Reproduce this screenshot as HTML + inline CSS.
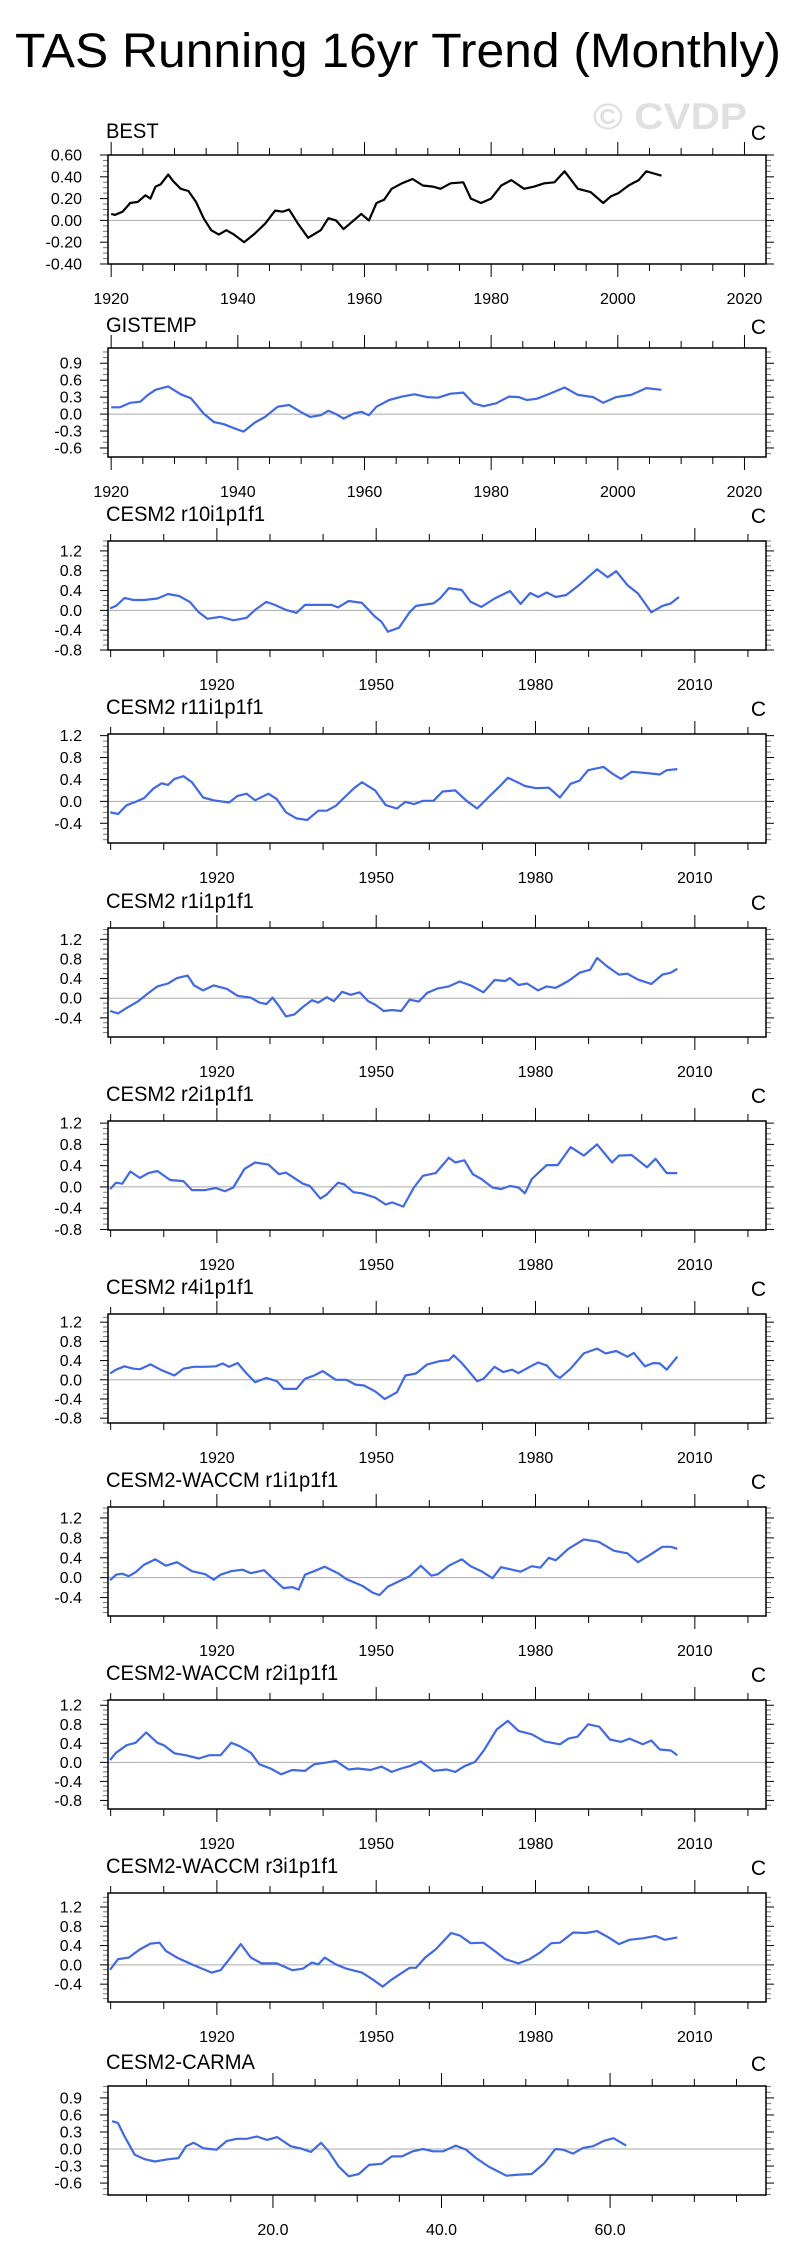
<!DOCTYPE html>
<html><head><meta charset="utf-8"><title>TAS Running 16yr Trend (Monthly)</title>
<style>
html,body{margin:0;padding:0;background:#fff;}
svg{display:block;font-family:"Liberation Sans",Arial,sans-serif;}
</style></head>
<body>
<svg id="chart" width="794" height="2265" viewBox="0 0 794 2265" xmlns="http://www.w3.org/2000/svg">
<text x="15" y="67" font-size="48" textLength="766" lengthAdjust="spacingAndGlyphs">TAS Running 16yr Trend (Monthly)</text>
<text x="593" y="129" font-size="37" font-weight="bold" fill="#e0e0e0" textLength="154" lengthAdjust="spacingAndGlyphs">© CVDP</text>
</svg>
<script>
// ---- data ----
const bestYears=[1920.0,1920.6,1921.8,1923.0,1924.2,1925.4,1926.2,1927.0,1927.8,1929.0,1929.8,1931.0,1932.2,1933.4,1934.6,1935.8,1937.0,1938.2,1939.4,1941.0,1942.7,1944.3,1945.9,1947.1,1948.1,1949.5,1951.1,1953.1,1954.3,1955.5,1956.7,1958.3,1959.5,1960.7,1961.9,1963.1,1964.3,1965.9,1967.6,1969.2,1970.8,1972.0,1973.6,1975.6,1976.8,1978.4,1980.0,1981.6,1983.2,1985.2,1986.8,1988.4,1990.0,1991.6,1993.7,1995.7,1997.7,1998.9,2000.1,2001.7,2003.3,2004.5,2005.7,2006.9];
const bestValues=[.06,.05,.08,.16,.17,.23,.20,.31,.33,.42,.36,.29,.27,.17,.02,-.09,-.13,-.09,-.13,-.20,-.12,-.03,.09,.08,.10,-.03,-.16,-.09,.02,.00,-.08,.00,.06,.00,.16,.19,.29,.34,.38,.32,.31,.29,.34,.35,.20,.16,.20,.32,.37,.29,.31,.34,.35,.45,.29,.26,.16,.22,.25,.32,.37,.45,.43,.41];
const gisYears=[1920.0,1921.4,1923.0,1924.6,1925.8,1927.0,1929.0,1931.0,1932.6,1934.6,1936.2,1937.8,1939.4,1940.9,1942.7,1944.3,1946.3,1948.1,1949.9,1951.4,1953.1,1954.3,1955.5,1956.7,1958.3,1959.5,1960.7,1961.9,1963.9,1965.9,1967.9,1969.9,1971.6,1973.6,1975.6,1977.2,1978.8,1980.8,1982.8,1984.4,1985.6,1987.2,1988.8,1991.6,1993.7,1996.1,1997.7,1999.7,2002.1,2004.5,2006.9];
const gisValues=[.12,.12,.20,.22,.34,.43,.49,.35,.28,.01,-.14,-.18,-.25,-.31,-.15,-.05,.13,.16,.04,-.05,-.02,.06,.00,-.08,.01,.04,-.02,.13,.25,.31,.35,.30,.29,.36,.38,.19,.14,.19,.31,.30,.25,.27,.34,.47,.34,.30,.20,.30,.34,.46,.43];
const r10Years=[1899.9,1901.0,1902.6,1904.3,1906.3,1908.8,1910.8,1912.9,1914.9,1916.6,1918.2,1920.7,1923.1,1925.6,1927.2,1929.3,1930.9,1933.0,1935.0,1936.6,1939.1,1941.6,1942.8,1944.8,1947.3,1949.8,1951.0,1952.2,1954.3,1956.3,1957.5,1960.8,1962.0,1963.7,1966.1,1967.8,1969.8,1972.3,1975.2,1977.2,1979.0,1980.5,1982.1,1983.8,1985.8,1988.3,1991.6,1993.6,1995.2,1997.3,1999.3,2001.8,2003.9,2005.5,2007.0];
const r10Values=[.04,.09,.25,.21,.21,.24,.33,.29,.17,-.04,-.17,-.13,-.20,-.15,.01,.17,.11,.01,-.05,.11,.11,.11,.06,.19,.15,-.13,-.23,-.43,-.35,-.04,.09,.14,.24,.45,.41,.17,.07,.24,.39,.13,.35,.27,.36,.27,.31,.52,.83,.67,.79,.51,.34,-.04,.09,.14,.27];
const r11Years=[1899.9,1901.4,1903.0,1904.7,1906.3,1908.0,1909.6,1910.8,1912.0,1913.7,1915.3,1917.4,1919.4,1922.3,1923.9,1925.6,1927.2,1929.7,1931.3,1933.0,1935.0,1937.0,1939.1,1940.7,1942.4,1944.0,1945.7,1947.3,1949.8,1951.8,1953.9,1955.5,1957.1,1958.8,1960.8,1962.5,1964.9,1967.0,1969.0,1971.1,1973.1,1974.8,1976.8,1978.0,1980.1,1982.5,1984.6,1986.6,1988.3,1989.9,1992.8,1994.4,1996.1,1998.1,2000.6,2003.4,2004.7,2006.7];
const r11Values=[-.20,-.23,-.07,-.01,.06,.23,.33,.30,.41,.46,.35,.07,.02,-.02,.10,.14,.02,.14,.04,-.20,-.31,-.34,-.17,-.17,-.08,.07,.23,.35,.20,-.07,-.13,-.01,-.05,.01,.01,.18,.20,.01,-.13,.07,.26,.43,.34,.28,.24,.25,.07,.32,.38,.57,.63,.51,.41,.54,.52,.49,.57,.59];
const r1Years=[1899.9,1901.4,1903.0,1905.1,1906.7,1908.8,1910.8,1912.5,1914.5,1915.7,1917.4,1919.4,1921.9,1923.9,1926.4,1928.0,1929.3,1930.5,1931.7,1933.0,1934.6,1936.2,1937.9,1939.1,1940.7,1942.0,1943.6,1945.2,1946.9,1948.5,1949.8,1951.4,1953.0,1954.7,1956.3,1958.0,1959.6,1961.6,1963.7,1965.7,1967.8,1970.2,1972.3,1974.3,1975.2,1976.8,1978.4,1980.5,1982.1,1983.8,1986.2,1988.3,1990.3,1991.6,1993.6,1995.7,1997.3,1999.3,2001.8,2003.9,2005.5,2006.7];
const r1Values=[-.26,-.31,-.20,-.07,.07,.24,.30,.41,.46,.26,.16,.26,.19,.05,.01,-.09,-.12,.01,-.16,-.37,-.33,-.18,-.04,-.09,.02,-.06,.13,.07,.12,-.06,-.13,-.26,-.24,-.26,-.03,-.07,.11,.20,.24,.34,.26,.12,.37,.35,.41,.27,.30,.16,.24,.21,.35,.52,.58,.82,.64,.48,.50,.38,.29,.48,.52,.60];
const r2Years=[1899.9,1901.0,1902.2,1903.7,1905.5,1907.1,1908.8,1911.2,1913.7,1915.3,1917.8,1919.8,1921.5,1923.1,1925.2,1927.2,1929.7,1931.7,1933.0,1936.2,1937.5,1939.5,1940.7,1942.8,1944.0,1945.7,1947.3,1949.8,1951.8,1953.0,1955.1,1957.1,1958.8,1961.2,1963.7,1964.9,1966.6,1968.2,1969.8,1971.9,1973.5,1975.2,1976.8,1978.0,1979.3,1982.1,1984.2,1986.6,1989.1,1991.6,1994.4,1995.7,1998.1,2001.0,2002.6,2004.7,2006.7];
const r2Values=[-.04,.08,.06,.29,.17,.26,.30,.13,.11,-.06,-.06,-.02,-.08,-.01,.34,.46,.42,.24,.27,.06,.02,-.22,-.14,.08,.05,-.10,-.12,-.20,-.33,-.29,-.37,-.01,.21,.26,.55,.46,.50,.24,.15,-.01,-.04,.02,-.01,-.12,.15,.41,.41,.75,.59,.80,.46,.59,.60,.37,.53,.26,.26];
const r4Years=[1899.9,1901.0,1902.6,1904.3,1905.5,1907.5,1909.6,1912.0,1913.7,1915.7,1917.8,1919.8,1921.1,1922.3,1923.9,1925.6,1927.2,1929.3,1931.3,1932.6,1935.0,1936.6,1938.3,1939.9,1942.4,1944.4,1946.1,1947.7,1949.8,1951.6,1953.9,1955.5,1957.5,1959.6,1962.0,1963.7,1964.6,1966.1,1967.8,1969.0,1970.2,1972.3,1973.9,1975.6,1976.8,1978.9,1980.5,1982.1,1983.8,1984.6,1986.6,1989.1,1991.6,1993.2,1995.2,1997.3,1998.5,2000.6,2002.2,2003.4,2004.7,2006.7];
const r4Values=[.13,.21,.28,.23,.22,.32,.20,.09,.23,.27,.27,.28,.34,.27,.35,.13,-.05,.04,-.03,-.19,-.19,.02,.09,.18,.00,.00,-.10,-.12,-.24,-.40,-.26,.09,.13,.32,.39,.41,.51,.35,.13,-.03,.02,.27,.16,.21,.14,.27,.36,.30,.09,.04,.23,.55,.65,.55,.60,.48,.56,.28,.35,.34,.21,.48];
const wr1Years=[1899.9,1901.0,1902.2,1903.4,1904.7,1906.3,1908.4,1910.4,1912.5,1915.3,1917.8,1919.4,1920.7,1922.7,1924.8,1926.4,1928.9,1930.5,1932.5,1934.2,1935.4,1936.6,1938.3,1940.3,1942.8,1944.4,1947.3,1949.3,1950.6,1952.2,1954.7,1956.3,1958.4,1960.4,1961.6,1963.7,1966.1,1967.8,1969.8,1971.9,1973.5,1975.6,1977.2,1979.3,1980.9,1982.5,1983.8,1986.2,1989.1,1991.9,1994.8,1997.3,1999.3,2001.4,2003.9,2005.5,2006.7];
const wr1Values=[-.05,.06,.08,.03,.11,.26,.37,.24,.31,.13,.07,-.04,.06,.13,.16,.09,.15,-.01,-.21,-.19,-.24,.06,.13,.22,.09,-.03,-.16,-.30,-.35,-.18,-.05,.03,.24,.04,.07,.24,.37,.23,.13,-.01,.21,.16,.12,.23,.20,.40,.35,.58,.77,.72,.54,.49,.31,.45,.62,.62,.58];
const wr2Years=[1899.9,1901.0,1903.0,1904.7,1906.7,1908.8,1910.0,1912.0,1914.1,1916.6,1918.6,1920.7,1922.7,1924.3,1926.4,1928.0,1930.1,1932.1,1934.2,1936.6,1938.3,1940.3,1942.4,1944.8,1946.5,1948.9,1951.0,1952.9,1954.7,1956.3,1958.4,1960.8,1963.3,1964.9,1966.6,1968.6,1970.2,1972.7,1974.8,1976.8,1979.3,1981.7,1984.6,1986.2,1987.9,1989.9,1992.0,1994.0,1996.1,1997.7,2000.2,2001.8,2003.4,2005.5,2006.7];
const wr2Values=[.05,.20,.36,.41,.63,.41,.36,.19,.15,.08,.15,.15,.41,.34,.20,-.04,-.13,-.25,-.16,-.18,-.04,-.01,.03,-.15,-.13,-.16,-.09,-.20,-.13,-.08,.02,-.18,-.15,-.20,-.08,.01,.24,.69,.87,.66,.59,.44,.38,.50,.54,.80,.75,.48,.43,.50,.38,.46,.27,.25,.15];
const wr3Years=[1899.9,1901.4,1903.4,1905.5,1907.5,1909.2,1910.4,1912.5,1915.3,1919.0,1920.7,1922.7,1924.5,1926.4,1928.4,1931.3,1934.2,1936.2,1937.9,1939.1,1940.3,1942.4,1944.4,1947.3,1949.3,1951.2,1953.0,1956.3,1957.5,1959.2,1961.2,1964.1,1965.7,1967.8,1970.2,1972.3,1974.3,1976.8,1978.9,1980.9,1983.0,1984.6,1987.1,1989.5,1991.6,1993.6,1995.7,1997.7,2000.2,2002.6,2004.3,2006.7];
const wr3Values=[-.10,.12,.15,.32,.44,.46,.29,.15,.01,-.16,-.11,.17,.43,.15,.03,.03,-.11,-.08,.05,.01,.15,.01,-.08,-.16,-.30,-.45,-.30,-.06,-.06,.15,.32,.66,.61,.45,.46,.29,.12,.03,.12,.26,.45,.46,.67,.66,.70,.58,.43,.52,.55,.60,.52,.57];
const carmaYears=[0.9,1.6,2.4,3.6,4.8,6.0,7.6,8.8,9.7,10.6,11.8,13.3,14.5,15.7,16.9,18.1,19.3,20.5,22.1,23.3,24.5,25.7,26.6,27.8,29.0,30.2,31.4,32.9,34.1,35.3,36.6,37.8,39.0,40.2,41.7,42.9,44.1,45.6,47.7,49.2,50.7,52.2,53.5,54.4,55.6,56.8,58.0,59.2,60.4,61.9];
const carmaValues=[.49,.46,.22,-.10,-.18,-.22,-.18,-.16,.05,.11,.01,-.01,.14,.18,.18,.22,.16,.21,.05,.01,-.05,.11,-.04,-.31,-.48,-.44,-.28,-.26,-.13,-.13,-.04,.00,-.04,-.04,.06,-.01,-.16,-.31,-.47,-.45,-.44,-.25,.00,-.01,-.08,.02,.05,.14,.19,.06];
const histXLabels=["1920","1940","1960","1980","2000","2020"];
const modelXLabels=["1920","1950","1980","2010"];
const carmaXLabels=["20.0","40.0","60.0"];

// ---- layout ----
const L=108,R=766,H=109;
const panels=[
 {name:"BEST",top:155,ymin:-0.4,ymax:0.6,ymaj:0.2,ymin2:0.05,dec:2,xd:[1919.5,2023.4],xmaj:20,xmin:5,x0:1920,xl:histXLabels,yrs:bestYears,vals:bestValues,color:"#000",toff:17},
 {name:"GISTEMP",top:348,ymin:-0.76,ymax:1.17,ymaj:0.3,ymin2:0.1,dec:1,xd:[1919.5,2023.4],xmaj:20,xmin:5,x0:1920,xl:histXLabels,yrs:gisYears,vals:gisValues,color:"#4169e1",toff:16},
 {name:"CESM2 r10i1p1f1",top:541,ymin:-0.8,ymax:1.4,ymaj:0.4,ymin2:0.1,dec:1,xd:[1899.5,2023.4],xmaj:30,xmin:10,x0:1920,xl:modelXLabels,yrs:r10Years,vals:r10Values,color:"#4169e1",toff:20},
 {name:"CESM2 r11i1p1f1",top:734,ymin:-0.76,ymax:1.23,ymaj:0.4,ymin2:0.1,dec:1,xd:[1899.5,2023.4],xmaj:30,xmin:10,x0:1920,xl:modelXLabels,yrs:r11Years,vals:r11Values,color:"#4169e1",toff:20},
 {name:"CESM2 r1i1p1f1",top:928,ymin:-0.79,ymax:1.43,ymaj:0.4,ymin2:0.1,dec:1,xd:[1899.5,2023.4],xmaj:30,xmin:10,x0:1920,xl:modelXLabels,yrs:r1Years,vals:r1Values,color:"#4169e1",toff:20},
 {name:"CESM2 r2i1p1f1",top:1121,ymin:-0.81,ymax:1.24,ymaj:0.4,ymin2:0.1,dec:1,xd:[1899.5,2023.4],xmaj:30,xmin:10,x0:1920,xl:modelXLabels,yrs:r2Years,vals:r2Values,color:"#4169e1",toff:20},
 {name:"CESM2 r4i1p1f1",top:1314,ymin:-0.9,ymax:1.37,ymaj:0.4,ymin2:0.1,dec:1,xd:[1899.5,2023.4],xmaj:30,xmin:10,x0:1920,xl:modelXLabels,yrs:r4Years,vals:r4Values,color:"#4169e1",toff:20},
 {name:"CESM2-WACCM r1i1p1f1",top:1507,ymin:-0.77,ymax:1.42,ymaj:0.4,ymin2:0.1,dec:1,xd:[1899.5,2023.4],xmaj:30,xmin:10,x0:1920,xl:modelXLabels,yrs:wr1Years,vals:wr1Values,color:"#4169e1",toff:20},
 {name:"CESM2-WACCM r2i1p1f1",top:1700,ymin:-0.98,ymax:1.31,ymaj:0.4,ymin2:0.1,dec:1,xd:[1899.5,2023.4],xmaj:30,xmin:10,x0:1920,xl:modelXLabels,yrs:wr2Years,vals:wr2Values,color:"#4169e1",toff:20},
 {name:"CESM2-WACCM r3i1p1f1",top:1893,ymin:-0.77,ymax:1.49,ymaj:0.4,ymin2:0.1,dec:1,xd:[1899.5,2023.4],xmaj:30,xmin:10,x0:1920,xl:modelXLabels,yrs:wr3Years,vals:wr3Values,color:"#4169e1",toff:20},
 {name:"CESM2-CARMA",top:2086,ymin:-0.81,ymax:1.11,ymaj:0.3,ymin2:0.1,dec:1,xd:[0.43,78.5],xmaj:20,xmin:5,x0:20,xl:carmaXLabels,yrs:carmaYears,vals:carmaValues,color:"#4169e1",toff:17}
];
const NS="http://www.w3.org/2000/svg";
const svg=document.getElementById("chart");
function mk(tag,attrs,parent){const e=document.createElementNS(NS,tag);for(const k in attrs)e.setAttribute(k,attrs[k]);(parent||svg).appendChild(e);return e;}
function slug(s){return s.toLowerCase().replace(/[^a-z0-9]+/g,"-").replace(/^-|-$/g,"");}

panels.forEach((p,pi)=>{
 const T=p.top,B=p.top+H;
 const g=mk("g",{});
 
 
 const xs=v=>L+(v-p.xd[0])/(p.xd[1]-p.xd[0])*(R-L);
 const ys=v=>B-(v-p.ymin)/(p.ymax-p.ymin)*H;
 const t=mk("text",{x:106,y:T-p.toff,"font-size":21,transform:"translate(106 0) scale(0.96 1) translate(-106 0)"},g);t.textContent=p.name;
 
 
 const c=mk("text",{x:766,y:T-p.toff+2,"font-size":21,"text-anchor":"end"},g);c.textContent="C";
 
 
 const eps=1e-6;
 let start=Math.ceil((p.xd[0]-eps)/p.xmin)*p.xmin;
 for(let v=start;v<=p.xd[1]+eps;v+=p.xmin){
  const x=xs(v);
  const major=Math.abs(((v-p.x0)/p.xmaj)-Math.round((v-p.x0)/p.xmaj))<1e-6;
  const len=major?13:7;
  const tk1=mk("line",{x1:x,x2:x,y1:T,y2:T-len,stroke:"#000","stroke-width":1},g);
  
  
  const tk2=mk("line",{x1:x,x2:x,y1:B,y2:B+len,stroke:"#000","stroke-width":1},g);
  
  
 }
 p.xl.forEach(lab=>{
  const v=parseFloat(lab);
  const tx=mk("text",{x:xs(v),y:B+40,"font-size":16,"text-anchor":"middle"},g);
  tx.textContent=lab;
  
  
 });
 const ns=Math.ceil((p.ymin-eps)/p.ymin2), ne=Math.floor((p.ymax+eps)/p.ymin2);
 for(let n=ns;n<=ne;n++){
  const v=n*p.ymin2;const y=ys(v);
  const r=v/p.ymaj;const major=Math.abs(r-Math.round(r))<1e-6;
  const len=major?8:5;const col=major?"#000":"#777";
  const a=mk("line",{x1:L,x2:L-len,y1:y,y2:y,stroke:col,"stroke-width":1},g);
  
  
  const b=mk("line",{x1:R,x2:R+len,y1:y,y2:y,stroke:col,"stroke-width":1},g);
  
  
  if(major){
   const ly=mk("text",{x:82,y:y+5.5,"font-size":16,"text-anchor":"end"},g);
   ly.textContent=(Math.abs(v)<1e-9?0:v).toFixed(p.dec);
   
   
  }
 }
 const z=mk("line",{x1:L,x2:R,y1:ys(0),y2:ys(0),stroke:"#aaa","stroke-width":1},g);
 
 
 const pts=p.yrs.map((yr,i)=>xs(yr).toFixed(1)+","+ys(p.vals[i]).toFixed(1)).join(" ");
 const ln=mk("polyline",{points:pts,fill:"none",stroke:p.color,"stroke-width":2.2,"stroke-linejoin":"round"},g);
 
 
 const fr=mk("rect",{x:L,y:T,width:R-L,height:H,fill:"none",stroke:"#000","stroke-width":1.5},g);
 
 
});
</script>
</body></html>
